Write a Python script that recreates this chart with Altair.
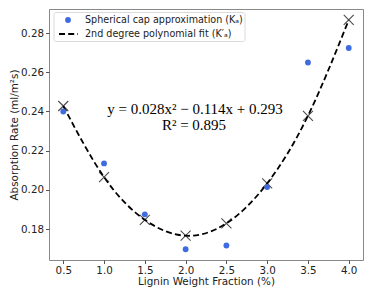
import altair as alt
import pandas as pd

# measured data (Spherical cap approximation)
x_vals = [0.5, 1.0, 1.5, 2.0, 2.5, 3.0, 3.5, 4.0]
ka_vals = [0.2400, 0.2135, 0.1875, 0.1697, 0.1716, 0.2014, 0.2650, 0.2724]
# 2nd degree polynomial fit values (read at the X markers)
fit_vals = [0.2428, 0.2065, 0.1847, 0.1766, 0.1829, 0.2033, 0.2378, 0.2867]

x_ticks = [0.5, 1.0, 1.5, 2.0, 2.5, 3.0, 3.5, 4.0]
y_ticks = [0.18, 0.20, 0.22, 0.24, 0.26, 0.28]

eq_line1 = "y = 0.028x\u00b2 \u2212 0.114x + 0.293"
eq_line2 = "R\u00b2 = 0.895"
legend_labels = ["Spherical cap approximation (K\u2090)", "2nd degree polynomial fit (K\u2032\u2090)"]

df = pd.DataFrame({"x": x_vals, "ka": ka_vals, "fit": fit_vals})

W, H = 314, 251
FONT = "DejaVu Sans"

xs = alt.Scale(domain=[0.325, 4.175], nice=False, zero=False)
ys = alt.Scale(domain=[0.1642, 0.2923], nice=False, zero=False)

common = dict(grid=False, domain=False, tickColor="#555", tickSize=3.5,
              labelFont=FONT, labelFontSize=10.3, labelColor="#222",
              titleFont=FONT, titleFontSize=10.4, titleFontWeight="normal",
              titleColor="#222")
xax = alt.Axis(values=x_ticks, format=".1f", title="Lignin Weight Fraction (%)",
               labelPadding=1.5, titlePadding=1, **common)
yax = alt.Axis(values=y_ticks, format=".2f", title="Absorption Rate (ml/m\u00b2s)",
               labelPadding=2, titlePadding=1, **common)

base = alt.Chart(df)

line = base.mark_line(color="black", strokeWidth=1.8, strokeDash=[6, 3.2],
                      interpolate="natural").encode(
    x=alt.X("x:Q", scale=xs, axis=xax),
    y=alt.Y("fit:Q", scale=ys, axis=yax),
)

crosses = base.mark_point(shape="M-1,-1L1,1M-1,1L1,-1", size=100, color="black",
                          strokeWidth=1.1, filled=False).encode(
    x=alt.X("x:Q", scale=xs),
    y=alt.Y("fit:Q", scale=ys),
)

dots = base.mark_circle(size=34, color="#3f6be0", opacity=1).encode(
    x=alt.X("x:Q", scale=xs),
    y=alt.Y("ka:Q", scale=ys),
)

eq1 = alt.Chart(pd.DataFrame({"t": [eq_line1]})).mark_text(
    font="Liberation Serif", fontSize=15, color="black", align="center", baseline="middle"
).encode(text="t:N", x=alt.value(146), y=alt.value(100))
eq2 = alt.Chart(pd.DataFrame({"t": [eq_line2]})).mark_text(
    font="Liberation Serif", fontSize=15, color="black", align="center", baseline="middle"
).encode(text="t:N", x=alt.value(145), y=alt.value(116))

# legend box
leg_box = alt.Chart(pd.DataFrame({"a": [0]})).mark_rect(
    fill="white", stroke="#d0d0d0", strokeWidth=0.8, cornerRadius=2
).encode(x=alt.value(5), x2=alt.value(196), y=alt.value(3.5), y2=alt.value(32.5))
leg_dot = alt.Chart(pd.DataFrame({"a": [0]})).mark_circle(
    size=34, color="#3f6be0", opacity=1
).encode(x=alt.value(19), y=alt.value(11))
leg_line = alt.Chart(pd.DataFrame({"a": [0]})).mark_rule(
    color="black", strokeWidth=1.8, strokeDash=[6, 3.2]
).encode(x=alt.value(10), x2=alt.value(29), y=alt.value(25))
leg_t1 = alt.Chart(pd.DataFrame({"t": [legend_labels[0]]})).mark_text(
    font=FONT, fontSize=9.6, color="#222", align="left", baseline="middle"
).encode(text="t:N", x=alt.value(36), y=alt.value(11))
leg_t2 = alt.Chart(pd.DataFrame({"t": [legend_labels[1]]})).mark_text(
    font=FONT, fontSize=9.6, color="#222", align="left", baseline="middle"
).encode(text="t:N", x=alt.value(36), y=alt.value(25))

chart = alt.layer(line, crosses, dots, eq1, eq2, leg_box, leg_dot, leg_line, leg_t1, leg_t2).properties(
    width=W, height=H,
    autosize=alt.AutoSizeParams(type="none"),
    padding={"left": 41, "top": 1, "right": 1, "bottom": 27},
).configure_view(stroke="#888", strokeWidth=1)

chart.save("out.html", embed_options={"renderer": "svg", "actions": False})
